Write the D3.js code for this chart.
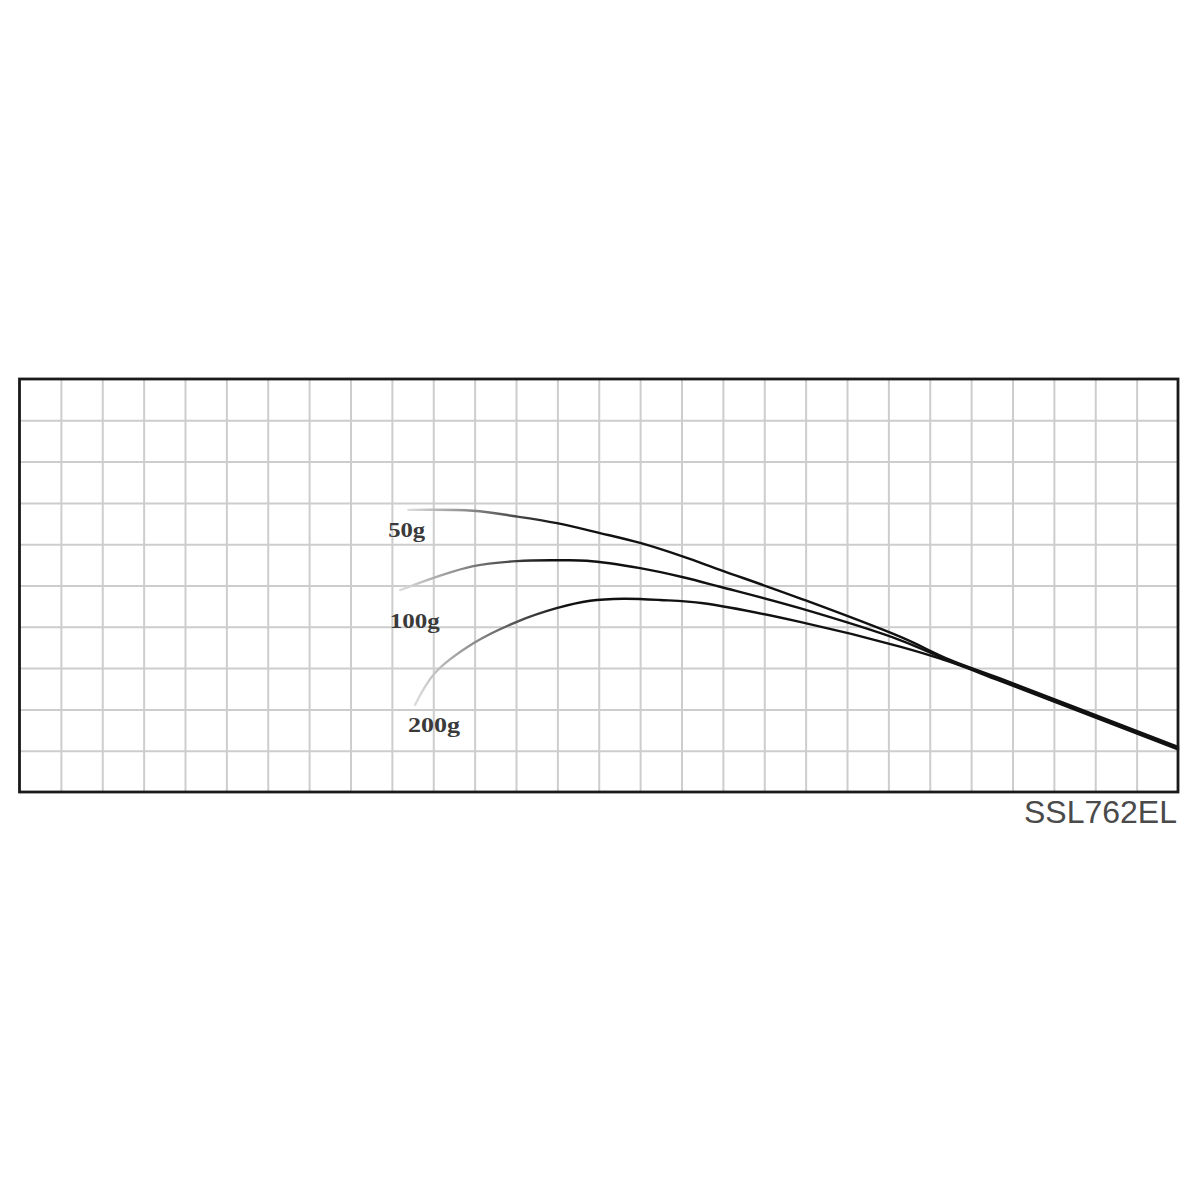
<!DOCTYPE html>
<html>
<head>
<meta charset="utf-8">
<script src="https://cdn.jsdelivr.net/npm/d3@7"></script>
<style>
  body { margin: 0; background: #fff; }
</style>
</head>
<body>
<div id="chart"></div>
<script>
// rod bend curves, in grid squares (x from left edge, y up from bottom edge)
const loads = ["50g", "100g", "200g"];

const bend50 = [[9.40, 6.83], [10.96, 6.81], [12.02, 6.67], [12.99, 6.51], [14.03, 6.27],
    [15.0, 6.03], [16.04, 5.70], [16.93, 5.38], [18.86, 4.69], [21.28, 3.76],
    [22.49, 3.20], [23.70, 2.75], [28, 1.09]];
const bend100 = [[9.20, 4.89], [10.08, 5.21], [10.97, 5.47], [12.02, 5.59], [12.98, 5.61],
    [13.71, 5.60], [15.0, 5.42], [16.04, 5.20], [16.93, 4.97], [18.86, 4.45],
    [21.28, 3.68], [22.49, 3.17], [23.70, 2.72], [28, 1.06]];
const bend200 = [[9.56, 2.11], [10.04, 2.88], [10.97, 3.60], [12.02, 4.12], [12.98, 4.45],
    [13.79, 4.63], [14.59, 4.68], [15.48, 4.65], [16.53, 4.57], [18.86, 4.12],
    [21.28, 3.52], [22.49, 3.15], [23.70, 2.69], [28, 1.03]];

const modelName = "SSL762EL";

const frameL = 19.5, frameT = 379, frameR = 1178, frameB = 792;

const svg = d3.select("#chart").append("svg")
    .attr("width", 1200)
    .attr("height", 1200);

const x = d3.scaleLinear().domain([0, 28]).range([frameL, frameR]);
const y = d3.scaleLinear().domain([0, 10]).range([frameB, frameT]);

// grid
const grid = svg.append("g");
grid.append("g")
    .attr("transform", `translate(0,${frameB})`)
    .call(d3.axisBottom(x).tickValues(d3.range(1, 28)).tickSize(-(frameB - frameT)).tickFormat(""))
    .call(g => g.select(".domain").remove());
grid.append("g")
    .attr("transform", `translate(${frameL},0)`)
    .call(d3.axisLeft(y).tickValues(d3.range(1, 10)).tickSize(-(frameR - frameL)).tickFormat(""))
    .call(g => g.select(".domain").remove());
grid.selectAll(".tick line")
    .attr("stroke", "#cdcdcd")
    .attr("stroke-width", 2);

// curves fade in from light grey at their start
const defs = svg.append("defs");
const line = d3.line()
    .x(d => x(d[0]))
    .y(d => y(d[1]))
    .curve(d3.curveCatmullRom.alpha(0.5));

[bend50, bend100, bend200].forEach((pts, i) => {
    const id = "fade" + i;
    const g = defs.append("linearGradient")
        .attr("id", id)
        .attr("gradientUnits", "userSpaceOnUse")
        .attr("x1", x(pts[0][0])).attr("x2", x(pts[0][0]) + 150)
        .attr("y1", 0).attr("y2", 0);
    g.append("stop").attr("offset", 0).attr("stop-color", "#dddddd");
    g.append("stop").attr("offset", 1).attr("stop-color", "#111");

    svg.append("path")
        .datum(pts)
        .attr("d", line)
        .attr("fill", "none")
        .attr("stroke", `url(#${id})`)
        .attr("stroke-width", 2.4)
        .attr("stroke-linecap", "round");
});

// load labels
const labelAt = [[8.91, 6.17, 37], [8.95, 3.96, 50], [9.39, 1.45, 52]];
svg.selectAll(".load")
    .data(loads)
    .join("text")
    .attr("class", "load")
    .attr("x", (d, i) => x(labelAt[i][0]))
    .attr("y", (d, i) => y(labelAt[i][1]))
    .attr("textLength", (d, i) => labelAt[i][2])
    .attr("lengthAdjust", "spacingAndGlyphs")
    .attr("font-family", "Liberation Serif, serif")
    .attr("font-size", 21)
    .attr("font-weight", "bold")
    .attr("fill", "#3a3a3a")
    .text(d => d);

// frame
svg.append("rect")
    .attr("x", frameL).attr("y", frameT)
    .attr("width", frameR - frameL).attr("height", frameB - frameT)
    .attr("fill", "none")
    .attr("stroke", "#1a1a1a")
    .attr("stroke-width", 2.8);

svg.append("text")
    .attr("x", frameR - 1)
    .attr("y", 823)
    .attr("text-anchor", "end")
    .attr("font-family", "Liberation Sans, Arial, sans-serif")
    .attr("font-size", 32)
    .attr("fill", "#4a4a4a")
    .text(modelName);
</script>
</body>
</html>
